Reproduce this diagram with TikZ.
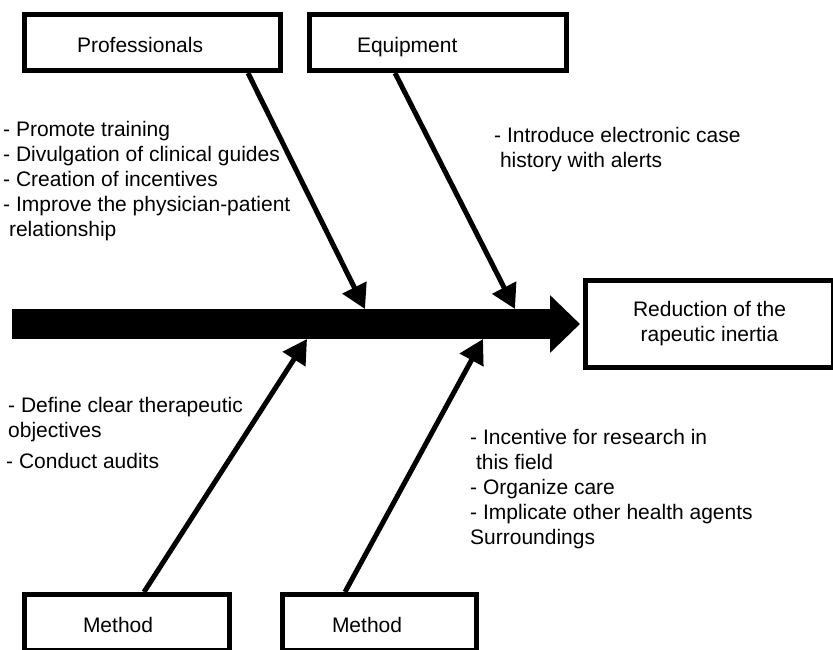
\documentclass[tikz,border=0pt]{standalone}
\usepackage{fontspec}
\setmainfont{Liberation Sans}
\usetikzlibrary{arrows.meta}

\tikzset{
    cause/.style = {draw, line width = 5pt, minimum height = 56pt, align = left, text height = 19pt, text depth = 0pt},
    effect/.style = {draw, line width = 5pt, minimum width = 248pt, minimum height = 87pt, align = center},
    notes/.style = {anchor = north west, inner sep = 0pt, align = left},
    bone/.style = {line width = 5pt, -{Triangle[length = 24pt, width = 26pt]}},
    spine/.style = {line width = 30pt, -{Triangle[length = 30pt, width = 56pt]}, shorten > = 3pt}
}

\begin{document}
\begin{tikzpicture}[x = 1pt, y = -1pt, font = \fontsize{21pt}{25pt}\selectfont]
            \useasboundingbox (0, 0) rectangle (833, 649);

            \node[cause, inner xsep = 52.5pt, text width = 151pt] (prof) at (152.5, 42.5) {Professionals};
            \node[cause, inner xsep = 47.5pt, text width = 162pt] (equip) at (438, 42.5) {Equipment};
            \node[cause, inner xsep = 58.5pt, text width = 88pt] (methA) at (127, 622.5) {Method};
            \node[cause, inner xsep = 49.5pt, text width = 95pt] (methB) at (379.5, 622.5) {Method};
            \node[effect] (res) at (709.5, 324) {Reduction of the\\rapeutic inertia};

            \node[notes] (profnotes) at (3, 121) {- Promote training\\- Divulgation of clinical guides\\- Creation of incentives\\- Improve the physician-patient\\\ relationship};
            \node[notes] (equipnotes) at (494, 127) {- Introduce electronic case\\\ history with alerts};
            \node[notes] (methAnotes) at (8, 397) {- Define clear therapeutic\\objectives\\[6pt]\hspace*{-2pt}- Conduct audits};
            \node[notes] (methBnotes) at (470, 429) {- Incentive for research in\\\ this field\\- Organize care\\- Implicate other health agents\\Surroundings};

            \coordinate (tail) at (12, 324);
            \coordinate (hitProf) at (365, 309);
            \coordinate (hitEquip) at (515, 309);
            \coordinate (hitMethA) at (307, 339);
            \coordinate (hitMethB) at (483, 339);

            \draw[spine] (tail) -- (res.west);
            \draw[bone] ([xshift = -35pt]prof.south east) -- (hitProf);
            \draw[bone] ([xshift = 88pt]equip.south west) -- (hitEquip);
            \draw[bone] ([xshift = 122pt]methA.north west) -- (hitMethA);
            \draw[bone] ([xshift = 65pt]methB.north west) -- (hitMethB);
        \end{tikzpicture}
\end{document}
